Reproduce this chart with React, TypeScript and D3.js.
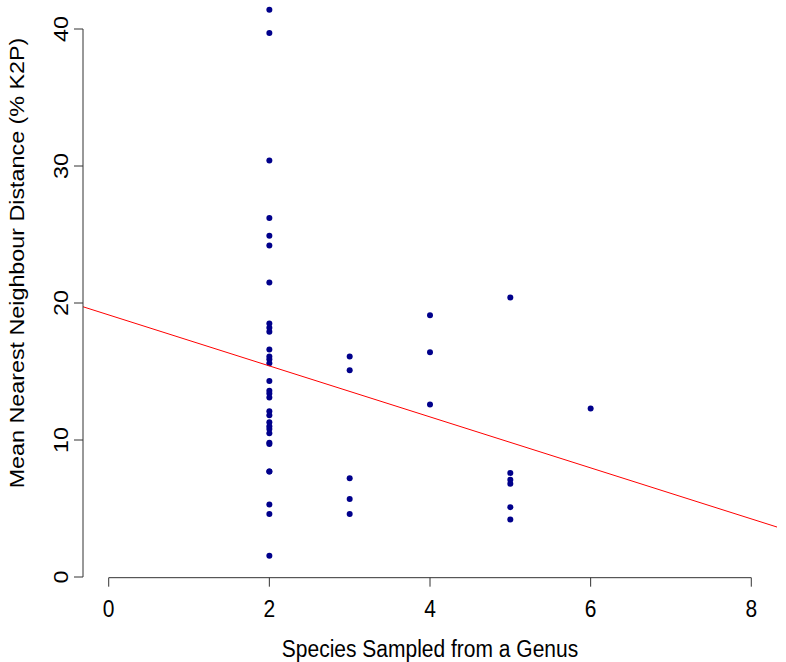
import React, { useEffect } from "react";
import * as d3 from "d3";

// Species sampled per genus (x) and mean nearest neighbour distance (y)
const speciesCount: number[] = [
  2, 2, 2, 2, 2, 2, 2, 2, 2, 2, 2, 2, 2, 2, 2, 2, 2, 2, 2, 2, 2, 2, 2, 2, 2, 2, 2, 2, 2, 2, 2,
  3, 3, 3, 3, 3,
  4, 4, 4,
  5, 5, 5, 5, 5, 5,
  6,
];
const meanDistance: number[] = [
  41.4, 39.7, 30.4, 26.2, 24.9, 24.2, 21.5, 18.5, 18.2, 17.9, 16.6, 16.1, 15.9, 15.6, 14.3,
  13.6, 13.4, 13.1, 12.1, 11.8, 11.3, 11.0, 10.8, 10.5, 9.8, 9.7, 7.7, 7.7, 5.3, 4.6, 1.55,
  16.1, 15.1, 7.2, 5.7, 4.6,
  19.1, 16.4, 12.6,
  20.4, 7.6, 7.1, 6.8, 5.1, 4.2,
  12.3,
];
const xTicks: number[] = [0, 2, 4, 6, 8];
const yTicks: number[] = [0, 10, 20, 30, 40];
const fitIntercept = 19.13;
const fitSlope = -1.861;
const xDomain: [number, number] = [-0.32, 8.32];
const yDomain: [number, number] = [0, 40];
const yMin = -0.05;

const W = 786;
const H = 662;

export default function App() {
  useEffect(() => {
    document.body.style.margin = "0";
  }, []);

  const x = d3.scaleLinear().domain(xDomain).range([83, 777]);
  const y = d3.scaleLinear().domain(yDomain).range([577, 29]);
  const axisY = y(yMin);
  const font = "'Liberation Sans', Arial, Helvetica, sans-serif";
  const fs = 21;
  const stretch = 1.11;
  const tick = 9;

  const fitLine = d3
    .line<number>()
    .x((d) => x(d))
    .y((d) => y(fitIntercept + fitSlope * d));

  return (
    <svg width={W} height={H} style={{ display: "block", background: "#fff" }} fontFamily={font}>
      {/* points */}
      {speciesCount.map((sx, i) => (
        <circle key={i} cx={x(sx)} cy={y(meanDistance[i])} r={3} fill="#00008B" />
      ))}
      {/* regression line */}
      <path d={fitLine(xDomain) ?? ""} stroke="#FF0000" strokeWidth={1} fill="none" />
      {/* axes */}
      <g stroke="#333" strokeWidth={1} fill="none">
        <line x1={x(xTicks[0])} x2={x(xTicks[xTicks.length - 1])} y1={axisY} y2={axisY} />
        {xTicks.map((t) => (
          <line key={t} x1={x(t)} x2={x(t)} y1={axisY} y2={axisY + tick} />
        ))}
        <line x1={83} x2={83} y1={y(yTicks[0])} y2={y(yTicks[yTicks.length - 1])} />
        {yTicks.map((t) => (
          <line key={t} x1={83} x2={83 - tick} y1={y(t)} y2={y(t)} />
        ))}
      </g>
      {xTicks.map((t) => (
        <text
          key={t}
          transform={`translate(${x(t)},617) scale(1,${stretch})`}
          fontSize={fs}
          textAnchor="middle"
          fill="#000"
        >
          {t}
        </text>
      ))}
      {yTicks.map((t) => (
        <text
          key={t}
          transform={`translate(68,${y(t)}) rotate(-90) scale(${stretch},1)`}
          fontSize={fs}
          textAnchor="middle"
          fill="#000"
        >
          {t}
        </text>
      ))}
      <text
        transform={`translate(430,657) scale(1,${stretch})`}
        fontSize={fs}
        textAnchor="middle"
        fill="#000"
      >
        Species Sampled from a Genus
      </text>
      <text
        transform={`translate(24,263) rotate(-90) scale(${stretch},1)`}
        fontSize={fs}
        textAnchor="middle"
        fill="#000"
      >
        Mean Nearest Neighbour Distance (% K2P)
      </text>
    </svg>
  );
}
